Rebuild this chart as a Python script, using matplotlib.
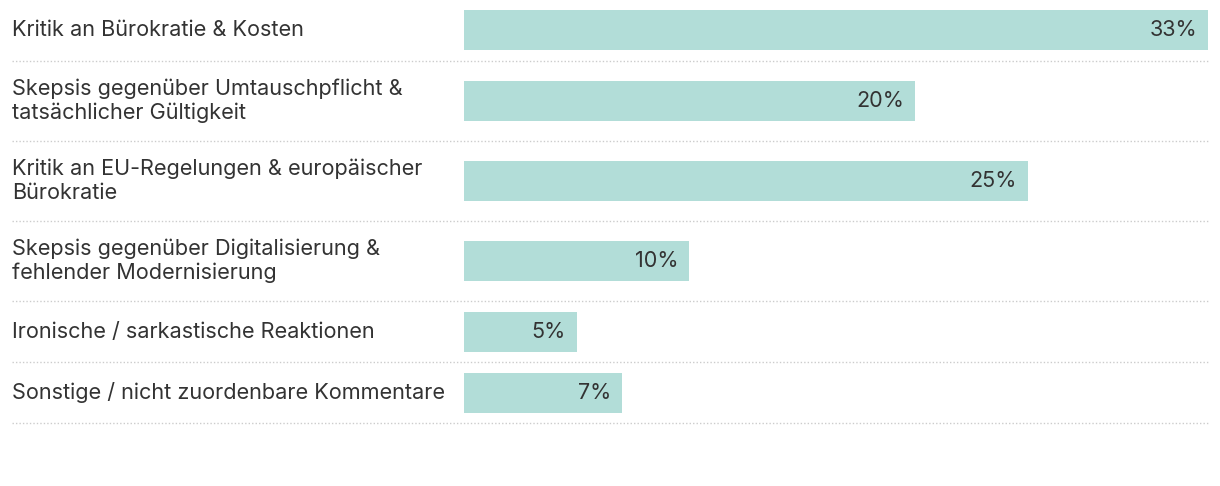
import matplotlib.pyplot as plt
from matplotlib.transforms import blended_transform_factory

plt.rcParams['font.family'] = ['Inter', 'DejaVu Sans']

labels = [
    "Kritik an Bürokratie & Kosten",
    "Skepsis gegenüber Umtauschpflicht &\ntatsächlicher Gültigkeit",
    "Kritik an EU-Regelungen & europäischer\nBürokratie",
    "Skepsis gegenüber Digitalisierung &\nfehlender Modernisierung",
    "Ironische / sarkastische Reaktionen",
    "Sonstige / nicht zuordenbare Kommentare",
]
values = [33, 20, 25, 10, 5, 7]

W, H = 1220, 486
bar_color = '#b2ddd8'
text_color = '#333333'
sep_color = '#cccccc'

fig = plt.figure(figsize=(W / 100, H / 100), dpi=100)
ax = fig.add_axes([464 / W, 0, 744 / W, 1])
ax.set_xlim(0, max(values))
ax.set_ylim(H, 0)
ax.axis('off')

# row heights depend on how many lines the label has
heights = [61 if '\n' not in l else 80 for l in labels]
tr = blended_transform_factory(fig.transFigure, ax.transData)

top = 0
for lab, v, h in zip(labels, values, heights):
    yc = top + h / 2
    ax.barh(yc, v, height=40, left=0, color=bar_color)
    ax.annotate(f"{v}%", (v, yc), xytext=(-11, 0), textcoords='offset pixels',
                ha='right', va='center', fontsize=15.6, color=text_color)
    ax.text(12 / W, yc, lab, transform=tr, ha='left', va='center',
            fontsize=15.6, color=text_color, linespacing=1.22)
    top += h
    ax.plot([12 / W, 1208 / W], [top, top], transform=tr, color=sep_color,
            lw=1, linestyle=(0, (1, 1.5)), clip_on=False)

fig.savefig('out.png', dpi=100, facecolor='white')
